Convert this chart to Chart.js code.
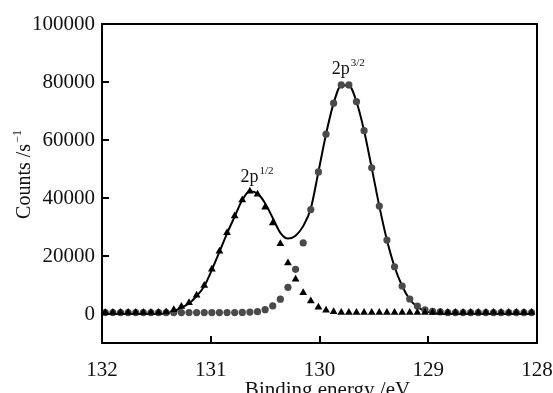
<!DOCTYPE html>
<html>
<head>
<meta charset="utf-8">
<script src="https://cdn.jsdelivr.net/npm/chart.js@4.4.1/dist/chart.umd.min.js"></script>
<style>
html, body { margin: 0; padding: 0; background: #fff; }
#wrap { width: 553px; height: 393px; position: relative; }
</style>
</head>
<body>
<div id="wrap"><canvas id="xps"></canvas></div>
<script>
// binding energy grid (eV)
const energy = [
    131.97, 131.90, 131.83, 131.76, 131.69, 131.62, 131.55, 131.48, 131.41, 131.34,
    131.27, 131.20, 131.13, 131.06, 130.99, 130.92, 130.85, 130.78, 130.71, 130.64,
    130.57, 130.50, 130.43, 130.36, 130.29, 130.22, 130.15, 130.08, 130.01, 129.94,
    129.87, 129.80, 129.73, 129.66, 129.59, 129.52, 129.45, 129.38, 129.31, 129.24,
    129.17, 129.10, 129.03, 128.96, 128.89, 128.82, 128.75, 128.68, 128.61, 128.54,
    128.47, 128.40, 128.33, 128.26, 128.19, 128.12, 128.05
];
// 2p1/2 component (triangles)
const p12 = [
    500, 500, 500, 500, 500, 500, 500, 500, 700, 1500,
    2600, 3900, 6500, 9800, 15400, 21600, 28000, 33800, 39300, 42300,
    41300, 36800, 31400, 24200, 17600, 12000, 7300, 4500, 2300, 1300,
    800, 500, 500, 500, 500, 500, 500, 500, 500, 500,
    500, 500, 500, 500, 500, 500, 500, 500, 500, 500,
    500, 500, 500, 500, 500, 500, 500
];
// 2p3/2 component (circles)
const p32 = [
    500, 500, 500, 500, 500, 500, 500, 500, 500, 500,
    500, 500, 500, 500, 500, 500, 500, 500, 550, 650,
    800, 1500, 2800, 5100, 9200, 15400, 24500, 36000, 49000, 62000,
    72700, 79000, 79000, 73200, 63200, 50400, 37200, 25500, 16300, 9650,
    5170, 2760, 1400, 900, 700, 500, 500, 500, 500, 500,
    500, 500, 500, 500, 500, 500, 500
];
// fitted envelope (solid line)
const fit = [
    0, 0, 0, 0, 0, 0, 0, 0, 300, 1000,
    2200, 3600, 6200, 9600, 15200, 21400, 27800, 33600, 39300, 42300,
    41500, 38200, 33100, 28000, 26000, 27000, 30300, 36400, 49000, 62000,
    72700, 78800, 78800, 73200, 63200, 50400, 37200, 25500, 16300, 9650,
    5000, 2500, 1000, 400, 100, 0, 0, 0, 0, 0,
    0, 0, 0, 0, 0, 0, 0
];
const xTicks = [132, 131, 130, 129, 128];
const yTicks = [0, 20000, 40000, 60000, 80000, 100000];
const peakLabels = [
    { main: '2p', sup: '1/2', x: 130.58, y: 45600 },
    { main: '2p', sup: '3/2', x: 129.74, y: 82700 }
];

const serif = '"Liberation Serif", "Times New Roman", "DejaVu Serif", serif';

function toPoints(ys) {
    return energy.map((e, i) => ({ x: e, y: ys[i] }));
}

const frame = {
    id: 'frame',
    afterDraw(chart) {
        const ctx = chart.ctx;
        const a = chart.chartArea;
        const xs = chart.scales.x;
        const ys = chart.scales.y;
        ctx.save();
        ctx.strokeStyle = '#000';
        ctx.lineWidth = 2;
        ctx.strokeRect(a.left, a.top, a.right - a.left, a.bottom - a.top);
        ctx.beginPath();
        xTicks.forEach(v => {
            const px = Math.round(xs.getPixelForValue(v));
            ctx.moveTo(px, a.bottom);
            ctx.lineTo(px, a.bottom - 7);
        });
        yTicks.forEach(v => {
            const py = Math.round(ys.getPixelForValue(v));
            ctx.moveTo(a.left, py);
            ctx.lineTo(a.left + 7, py);
        });
        ctx.stroke();

        // peak labels with superscripts
        ctx.fillStyle = '#111';
        ctx.textBaseline = 'alphabetic';
        peakLabels.forEach(l => {
            ctx.font = '18px ' + serif;
            const w1 = ctx.measureText(l.main).width;
            ctx.font = '11px ' + serif;
            const w2 = ctx.measureText(l.sup).width;
            const cx = xs.getPixelForValue(l.x);
            const by = ys.getPixelForValue(l.y);
            const x0 = cx - (w1 + w2) / 2;
            ctx.font = '18px ' + serif;
            ctx.textAlign = 'left';
            ctx.fillText(l.main, x0, by);
            ctx.font = '11px ' + serif;
            ctx.fillText(l.sup, x0 + w1 + 1, by - 8);
        });

        // axis titles
        ctx.font = '21px ' + serif;
        ctx.textAlign = 'center';
        ctx.fillText('Binding energy /eV', (a.left + a.right) / 2 + 8, 396);

        ctx.translate(30, 175);
        ctx.rotate(-Math.PI / 2);
        ctx.font = '20px ' + serif;
        const tMain = 'Counts /s';
        const wm = ctx.measureText(tMain).width;
        ctx.font = '12px ' + serif;
        const ws = ctx.measureText('\u22121').width;
        const start = -(wm + ws) / 2;
        ctx.textAlign = 'left';
        ctx.font = '20px ' + serif;
        ctx.fillText(tMain, start, 0);
        ctx.font = '12px ' + serif;
        ctx.fillText('\u22121', start + wm + 1, -9);
        ctx.restore();
    }
};

new Chart(document.getElementById('xps'), {
    type: 'scatter',
    data: {
        datasets: [
            {
                label: '2p1/2',
                data: toPoints(p12),
                pointStyle: 'triangle',
                pointRadius: 4.5,
                backgroundColor: '#000',
                borderColor: '#000',
                borderWidth: 0,
                showLine: false
            },
            {
                label: '2p3/2',
                data: toPoints(p32),
                pointStyle: 'circle',
                pointRadius: 3.6,
                backgroundColor: '#4a4a4a',
                borderColor: '#4a4a4a',
                borderWidth: 0,
                showLine: false
            },
            {
                label: 'fit',
                data: toPoints(fit),
                showLine: true,
                pointRadius: 0,
                borderColor: '#000',
                borderWidth: 2,
                cubicInterpolationMode: 'monotone',
                fill: false
            }
        ]
    },
    options: {
        responsive: true,
        maintainAspectRatio: false,
        animation: false,
        layout: { padding: { top: 24, right: 16, left: 0, bottom: 0 } },
        plugins: {
            legend: { display: false },
            tooltip: { enabled: false }
        },
        scales: {
            x: {
                type: 'linear',
                reverse: true,
                min: 128,
                max: 132,
                afterBuildTicks: s => { s.ticks = xTicks.map(v => ({ value: v })); },
                afterFit: s => { s.height = 50; s.paddingLeft = 0; s.paddingRight = 0; },
                grid: { display: false, drawTicks: false },
                border: { display: false },
                ticks: {
                    color: '#111',
                    font: { family: serif, size: 21 },
                    padding: 15,
                    maxRotation: 0,
                    autoSkip: false,
                    callback: v => String(v)
                }
            },
            y: {
                type: 'linear',
                min: -10000,
                max: 100000,
                afterBuildTicks: s => { s.ticks = yTicks.map(v => ({ value: v })); },
                afterFit: s => { s.width = 102; s.paddingTop = 0; s.paddingBottom = 0; },
                grid: { display: false, drawTicks: false },
                border: { display: false },
                ticks: {
                    color: '#111',
                    font: { family: serif, size: 21 },
                    padding: 7,
                    autoSkip: false,
                    callback: v => String(v)
                }
            }
        }
    },
    plugins: [frame]
});
</script>
</body>
</html>
